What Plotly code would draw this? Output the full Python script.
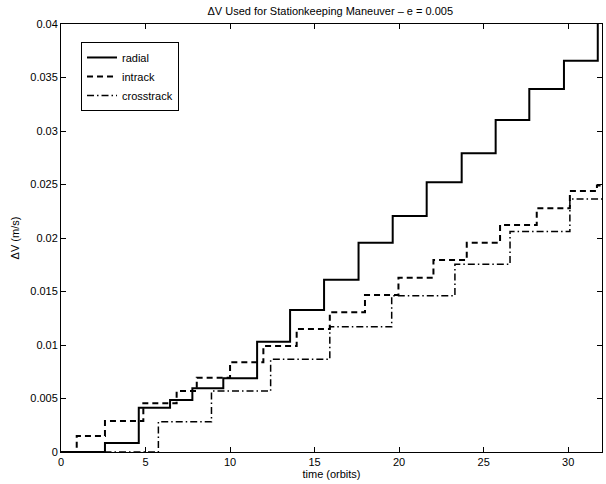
import plotly.graph_objects as go

# Step data (time in orbits, cumulative delta-V in m/s)
radial_t = [0, 2.6, 4.6, 6.45, 7.77, 9.6, 11.6, 13.55, 15.56, 17.6, 19.62, 21.63, 23.7, 25.71, 27.7, 29.75, 31.75, 32]
radial_dv = [0, 0.00084, 0.00414, 0.00486, 0.00595, 0.0069, 0.0103, 0.01327, 0.0161, 0.01956, 0.02206, 0.0252,
             0.02792, 0.03103, 0.03393, 0.03657, 0.0402, 0.0402]

intrack_t = [0, 0.93, 2.6, 4.87, 6.84, 8.03, 10.0, 11.97, 13.94, 15.9, 17.98, 19.96, 22.03, 24.0, 25.97, 28.14, 30.1, 31.7, 32]
intrack_dv = [0, 0.0015, 0.0029, 0.00455, 0.0057, 0.00695, 0.00838, 0.0099, 0.0115, 0.01306, 0.01467, 0.01629,
              0.01794, 0.01956, 0.02121, 0.02277, 0.0244, 0.0249, 0.0249]

crosstrack_t = [0, 5.76, 8.9, 12.4, 15.9, 19.56, 23.3, 26.56, 30.1, 32]
crosstrack_dv = [0, 0.00283, 0.0057, 0.00866, 0.0117, 0.0146, 0.01754, 0.0206, 0.02364, 0.02364]

series_names = ["radial", "intrack", "crosstrack"]

FONT = "Liberation Sans, Arial, Helvetica, sans-serif"

fig = go.Figure()
fig.add_trace(go.Scatter(x=radial_t, y=radial_dv, name=series_names[0], mode="lines",
                         line=dict(shape="hv", color="black", width=2)))
fig.add_trace(go.Scatter(x=intrack_t, y=intrack_dv, name=series_names[1], mode="lines",
                         line=dict(shape="hv", color="black", width=2, dash="6px,4px")))
fig.add_trace(go.Scatter(x=crosstrack_t, y=crosstrack_dv, name=series_names[2], mode="lines",
                         line=dict(shape="hv", color="black", width=1.5, dash="7px,3px,1.5px,3px")))

axis_common = dict(
    showline=True, linecolor="black", linewidth=1, mirror="ticks",
    ticks="inside", ticklen=5, tickwidth=1, tickcolor="black",
    showgrid=False, zeroline=False,
    tickfont=dict(family=FONT, size=11, color="black"),
)

fig.update_xaxes(range=[0, 32], tick0=0, dtick=5,
                 title=dict(text="time (orbits)", font=dict(family=FONT, size=11, color="black"), standoff=2),
                 **axis_common)
fig.update_yaxes(range=[0, 0.04], tick0=0, dtick=0.005,
                 title=dict(text="ΔV (m/s)", font=dict(family=FONT, size=11, color="black"), standoff=8),
                 **axis_common)

fig.update_layout(
    width=606, height=484,
    margin=dict(l=61, r=4, t=24, b=32),
    paper_bgcolor="white", plot_bgcolor="white",
    title=dict(text="ΔV Used for Stationkeeping Maneuver – e = 0.005",
               font=dict(family=FONT, size=11, color="black"),
               x=0.545, xanchor="center", y=0.985, yanchor="top"),
    font=dict(family=FONT, size=11, color="black"),
    legend=dict(x=0.037, y=0.958, xanchor="left", yanchor="top",
                bordercolor="black", borderwidth=1, bgcolor="white",
                font=dict(family=FONT, size=11, color="black"),
                itemwidth=30, tracegroupgap=0),
    showlegend=True,
)

fig.write_html("out.html")
